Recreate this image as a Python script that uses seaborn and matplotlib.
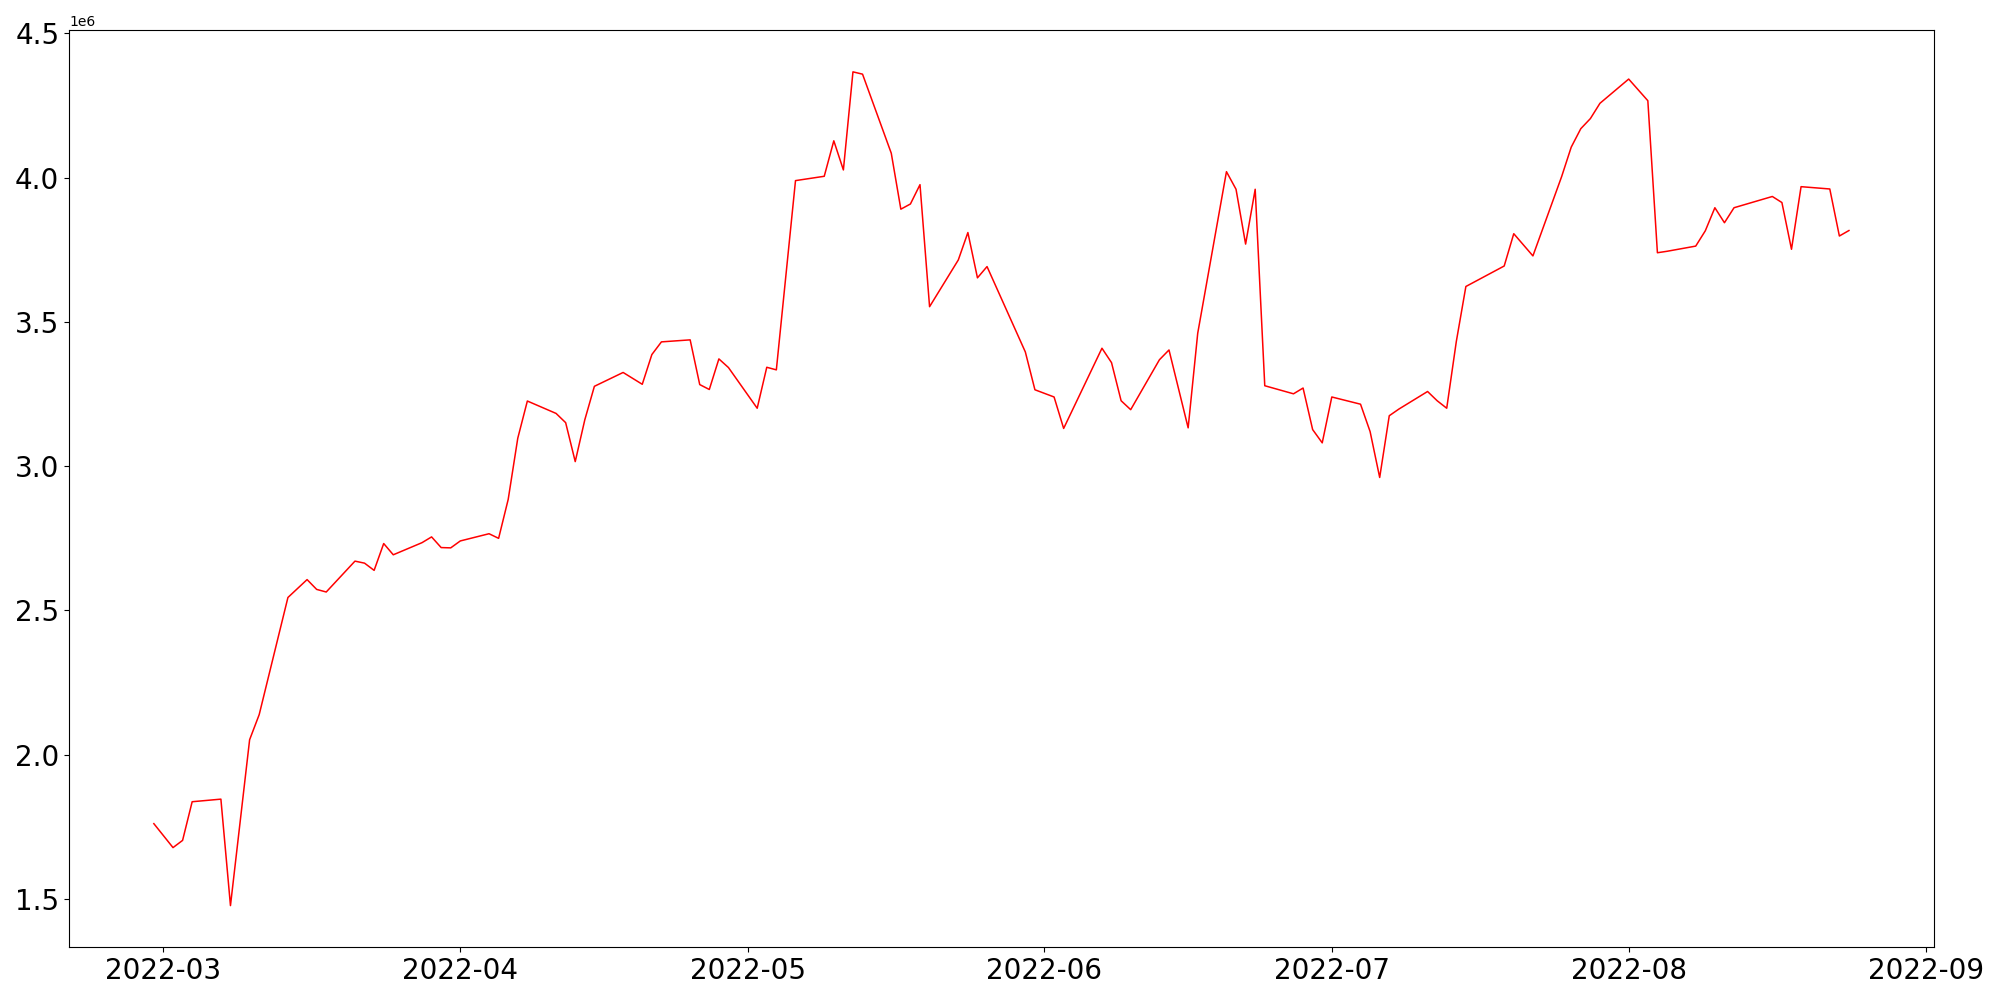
import matplotlib
matplotlib.use("Agg")
import matplotlib.pyplot as plt
import seaborn as sns
import pandas as pd

dates = [
    "2022-02-28", "2022-03-02", "2022-03-03", "2022-03-04", "2022-03-07", "2022-03-08",
    "2022-03-10", "2022-03-11", "2022-03-14", "2022-03-16", "2022-03-17", "2022-03-18",
    "2022-03-21", "2022-03-22", "2022-03-23", "2022-03-24", "2022-03-25", "2022-03-28",
    "2022-03-29", "2022-03-30", "2022-03-31", "2022-04-01", "2022-04-04", "2022-04-05",
    "2022-04-06", "2022-04-07", "2022-04-08", "2022-04-11", "2022-04-12", "2022-04-13",
    "2022-04-14", "2022-04-15", "2022-04-18", "2022-04-20", "2022-04-21", "2022-04-22",
    "2022-04-25", "2022-04-26", "2022-04-27", "2022-04-28", "2022-04-29", "2022-05-02",
    "2022-05-03", "2022-05-04", "2022-05-06", "2022-05-09", "2022-05-10", "2022-05-11",
    "2022-05-12", "2022-05-13", "2022-05-16", "2022-05-17", "2022-05-18", "2022-05-19",
    "2022-05-20", "2022-05-23", "2022-05-24", "2022-05-25", "2022-05-26", "2022-05-30",
    "2022-05-31", "2022-06-02", "2022-06-03", "2022-06-07", "2022-06-08", "2022-06-09",
    "2022-06-10", "2022-06-13", "2022-06-14", "2022-06-16", "2022-06-17", "2022-06-20",
    "2022-06-21", "2022-06-22", "2022-06-23", "2022-06-24", "2022-06-27", "2022-06-28",
    "2022-06-29", "2022-06-30", "2022-07-01", "2022-07-04", "2022-07-05", "2022-07-06",
    "2022-07-07", "2022-07-08", "2022-07-11", "2022-07-12", "2022-07-13", "2022-07-14",
    "2022-07-15", "2022-07-19", "2022-07-20", "2022-07-22", "2022-07-25", "2022-07-26",
    "2022-07-27", "2022-07-28", "2022-07-29", "2022-08-01", "2022-08-03", "2022-08-04",
    "2022-08-05", "2022-08-08", "2022-08-09", "2022-08-10", "2022-08-11", "2022-08-12",
    "2022-08-16", "2022-08-17", "2022-08-18", "2022-08-19", "2022-08-22", "2022-08-23",
    "2022-08-24",
]

values = [
    1.761, 1.678, 1.703, 1.837, 1.846, 1.477,
    2.052, 2.139, 2.545, 2.607, 2.573, 2.564,
    2.671, 2.664, 2.639, 2.732, 2.693, 2.735,
    2.755, 2.718, 2.717, 2.741, 2.766, 2.750,
    2.885, 3.097, 3.226, 3.183, 3.151, 3.016,
    3.161, 3.277, 3.325, 3.284, 3.387, 3.431,
    3.438, 3.283, 3.266, 3.372, 3.342, 3.201,
    3.343, 3.334, 3.990, 4.005, 4.128, 4.027,
    4.367, 4.359, 4.085, 3.891, 3.909, 3.976,
    3.553, 3.715, 3.810, 3.653, 3.692, 3.396,
    3.265, 3.240, 3.131, 3.409, 3.359, 3.227,
    3.196, 3.369, 3.403, 3.133, 3.461, 4.021,
    3.960, 3.770, 3.960, 3.279, 3.251, 3.271,
    3.127, 3.081, 3.240, 3.215, 3.120, 2.961,
    3.175, 3.198, 3.259, 3.227, 3.201, 3.432,
    3.623, 3.694, 3.806, 3.729, 4.004, 4.106,
    4.170, 4.205, 4.258, 4.342, 4.267, 3.740,
    3.745, 3.763, 3.816, 3.896, 3.844, 3.896,
    3.935, 3.914, 3.752, 3.969, 3.961, 3.798,
    3.817,
]

df = pd.DataFrame({"date": pd.to_datetime(dates), "value": [v * 1e6 for v in values]})

fig, ax = plt.subplots(figsize=(20, 10), dpi=100)
sns.lineplot(data=df, x="date", y="value", color="red", linewidth=1.1, ax=ax)
ax.set_xlabel("")
ax.set_ylabel("")
ax.tick_params(axis="both", labelsize=20)
fig.tight_layout()
fig.savefig("out.png", dpi=100)
